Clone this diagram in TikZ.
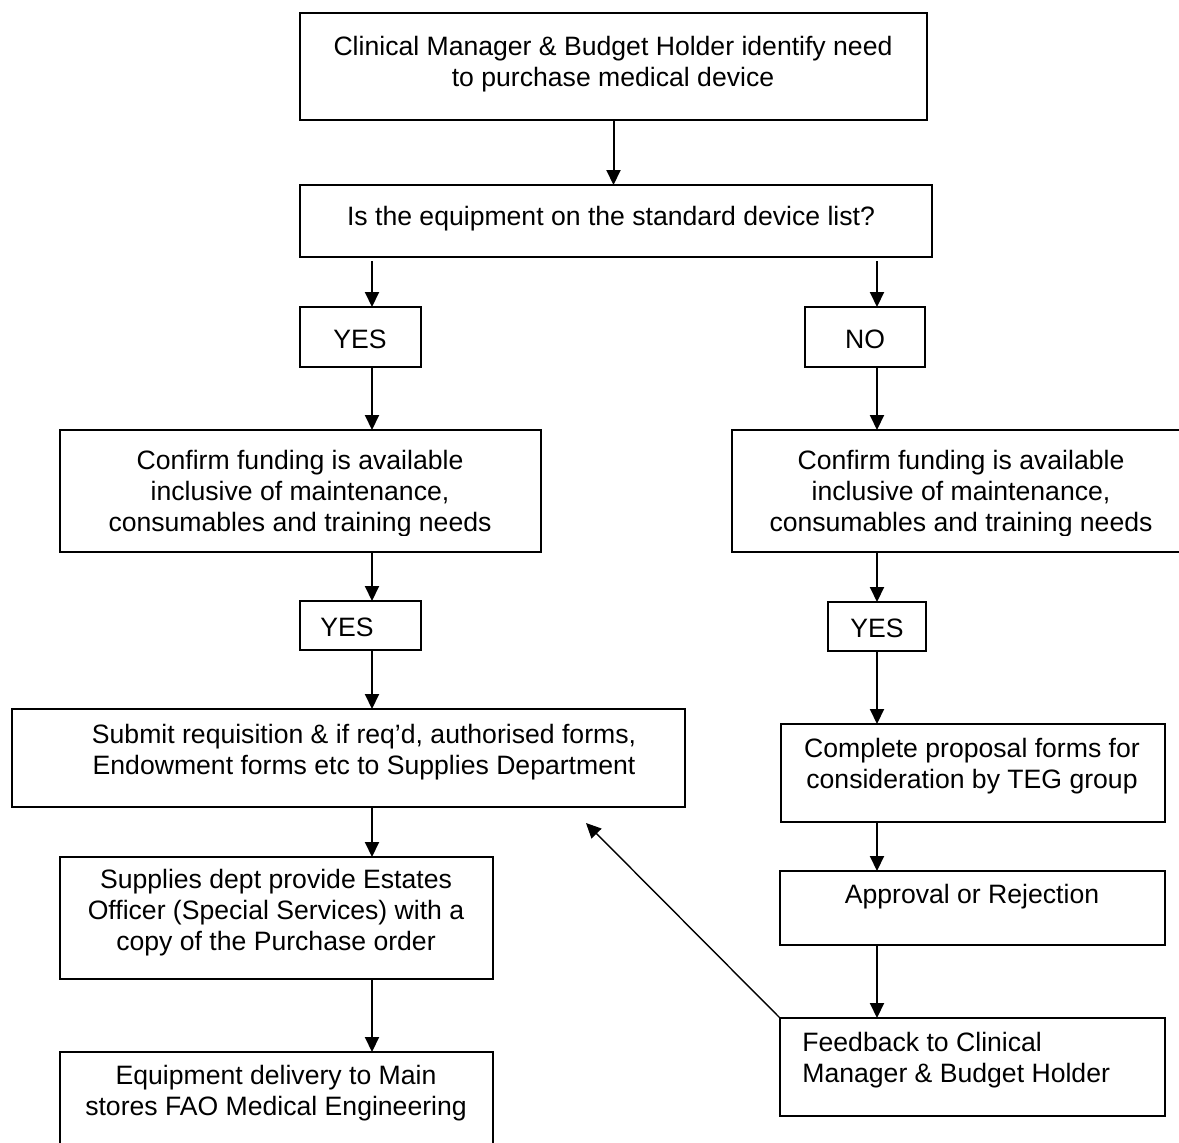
\documentclass[tikz,border=0pt]{standalone}
\usepackage{fontspec}
\setmainfont{Liberation Sans}
\usetikzlibrary{arrows.meta}
\begin{document}
\begin{tikzpicture}[x=0.5pt,y=-0.5pt,
  box/.style={draw, line width=1pt, inner sep=0pt, outer sep=0pt},
  txt/.style={font=\fontsize{13.3}{15.5}\selectfont, align=center, inner sep=0pt},
  arr/.style={-{Triangle[length=7.5pt,width=7pt]}, line width=1pt},
]
\useasboundingbox (0,0) rectangle (1179,1142);
% boxes
\node[box, minimum width=313.5pt, minimum height=53.5pt] (b1) at (613.5,66.5) {};
\node[box, minimum width=316pt, minimum height=36pt] (b2) at (616,221) {};
\node[box, minimum width=60.5pt, minimum height=30pt] (y1) at (360.5,337) {};
\node[box, minimum width=60pt, minimum height=30pt] (n1) at (865,337) {};
\node[box, minimum width=240.5pt, minimum height=61pt] (cL) at (300.5,491) {};
\node[box, minimum width=229pt, minimum height=61pt] (cR) at (961,491) {};
\node[box, minimum width=60.5pt, minimum height=24.5pt] (y2) at (360.5,625.5) {};
\node[box, minimum width=49pt, minimum height=24.5pt] (y3) at (877,626.5) {};
\node[box, minimum width=336.5pt, minimum height=49pt] (sub) at (348.5,758) {};
\node[box, minimum width=192pt, minimum height=49pt] (comp) at (973,773) {};
\node[box, minimum width=216.5pt, minimum height=61pt] (sup) at (276.5,918) {};
\node[box, minimum width=192.5pt, minimum height=37pt] (appr) at (972.5,908) {};
\node[box, minimum width=216.5pt, minimum height=54pt] (equip) at (276.5,1106) {};
\node[box, minimum width=192.5pt, minimum height=49pt] (fb) at (972.5,1067) {};
% texts
\node[txt] (b1t) at (613,64) {Clinical Manager \& Budget Holder identify need\\to purchase medical device};
\node[txt] (b2t) at (611,219) {Is the equipment on the standard device list?};
\node[txt] (y1t) at (360,339) {YES};
\node[txt] (n1t) at (865,339) {NO};
\begin{scope}
\clip (0,0) rectangle (1179,535);
\node[txt] (cLt) at (300,494) {Confirm funding is available\\inclusive of maintenance,\\consumables and training needs};
\node[txt] (cRt) at (961,494) {Confirm funding is available\\inclusive of maintenance,\\consumables and training needs};
\end{scope}
\node[txt] (y2t) at (347,627) {YES};
\node[txt] (y3t) at (877,628) {YES};
\node[txt] (subt) at (364,752) {Submit requisition \& if req’d, authorised forms,\\Endowment forms etc to Supplies Department};
\node[txt] (compt) at (972,766) {Complete proposal forms for\\consideration by TEG group};
\node[txt] (supt) at (276,913) {Supplies dept provide Estates\\Officer (Special Services) with a\\copy of the Purchase order};
\node[txt] (apprt) at (972,897) {Approval or Rejection};
\node[txt] (equipt) at (276,1093) {Equipment delivery to Main\\stores FAO Medical Engineering};
\node[txt, align=left, anchor=west] (fbt) at (802,1060) {Feedback to Clinical\\Manager \& Budget Holder};
% connectors
\coordinate (cl) at (372,0);
\coordinate (cr) at (877,0);
\draw[arr] (b1.south) -- (b1.south |- b2.north);
\draw[arr, shorten <=2pt] (b2.south -| cl) -- (y1.north -| cl);
\draw[arr, shorten <=2pt] (b2.south -| cr) -- (n1.north -| cr);
\draw[arr] (y1.south -| cl) -- (cL.north -| cl);
\draw[arr] (n1.south -| cr) -- (cR.north -| cr);
\draw[arr] (cL.south -| cl) -- (y2.north -| cl);
\draw[arr] (cR.south -| cr) -- (y3.north -| cr);
\draw[arr] (y2.south -| cl) -- (sub.north -| cl);
\draw[arr] (y3.south -| cr) -- (comp.north -| cr);
\draw[arr] (sub.south -| cl) -- (sup.north -| cl);
\draw[arr] (comp.south -| cr) -- (appr.north -| cr);
\draw[arr] (sup.south -| cl) -- (equip.north -| cl);
\draw[arr] (appr.south -| cr) -- (fb.north -| cr);
\coordinate (fbtip) at (586,823);
\draw[arr, line width=0.7pt] (fb.north west) -- (fbtip);
\end{tikzpicture}
\end{document}
